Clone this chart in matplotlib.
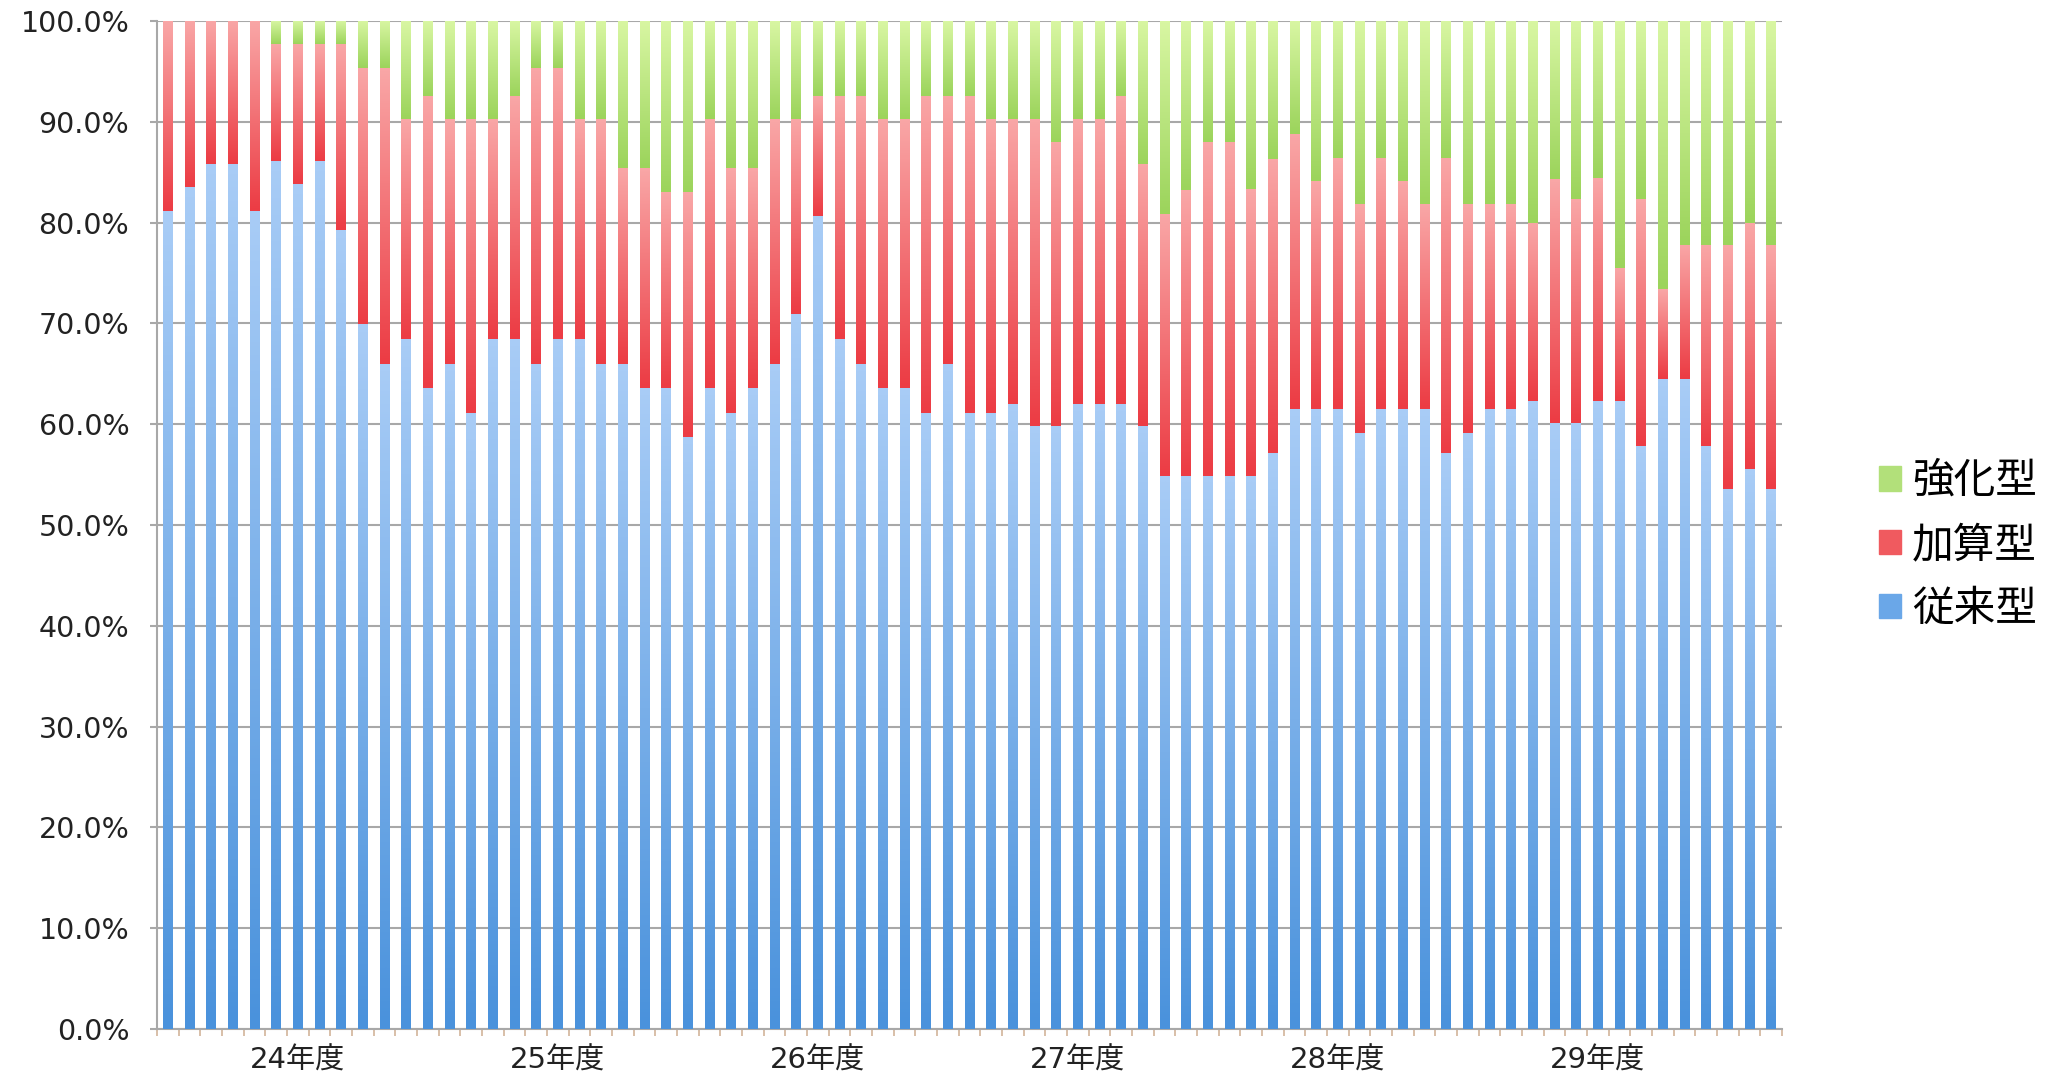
import numpy as np
import matplotlib.pyplot as plt
from matplotlib.colors import LinearSegmentedColormap
from matplotlib.patches import Patch

plt.rcParams['font.family'] = ['DejaVu Sans', 'Noto Sans CJK JP']

# monthly share (%) of each type, 75 months
juurai = [81.2, 83.5, 85.8, 85.8, 81.2, 86.1, 83.8, 86.1, 79.3, 69.9,
          66.0, 68.5, 63.6, 66.0, 61.1, 68.5, 68.5, 66.0, 68.5, 68.5,
          66.0, 66.0, 63.6, 63.6, 58.7, 63.6, 61.1, 63.6, 66.0, 70.9,
          80.7, 68.5, 66.0, 63.6, 63.6, 61.1, 66.0, 61.1, 61.1, 62.0,
          59.8, 59.8, 62.0, 62.0, 62.0, 59.8, 54.9, 54.9, 54.9, 54.9,
          54.9, 57.1, 61.5, 61.5, 61.5, 59.1, 61.5, 61.5, 61.5, 57.1,
          59.1, 61.5, 61.5, 62.3, 60.1, 60.1, 62.3, 62.3, 57.8, 64.5,
          64.5, 57.8, 53.6, 55.6, 53.6]
kasan = [18.8, 16.5, 14.2, 14.2, 18.8, 11.6, 13.9, 11.6, 18.4, 25.4,
         29.3, 21.8, 29.0, 24.3, 29.2, 21.8, 24.1, 29.3, 26.8, 21.8,
         24.3, 19.4, 21.8, 19.4, 24.3, 26.7, 24.3, 21.8, 24.3, 19.4,
         11.9, 24.1, 26.6, 26.7, 26.7, 31.5, 26.6, 31.5, 29.2, 28.3,
         30.5, 28.2, 28.3, 28.3, 30.6, 26.0, 26.0, 28.3, 33.1, 33.1,
         28.4, 29.2, 27.3, 22.6, 24.9, 22.7, 24.9, 22.6, 20.3, 29.3,
         22.7, 20.3, 20.3, 17.7, 24.2, 22.2, 22.1, 13.2, 24.5, 8.9,
         13.3, 20.0, 24.2, 24.4, 24.2]
kyoka = [0.0, 0.0, 0.0, 0.0, 0.0, 2.3, 2.3, 2.3, 2.3, 4.7,
         4.7, 9.7, 7.4, 9.7, 9.7, 9.7, 7.4, 4.7, 4.7, 9.7,
         9.7, 14.6, 14.6, 17.0, 17.0, 9.7, 14.6, 14.6, 9.7, 9.7,
         7.4, 7.4, 7.4, 9.7, 9.7, 7.4, 7.4, 7.4, 9.7, 9.7,
         9.7, 12.0, 9.7, 9.7, 7.4, 14.2, 19.1, 16.8, 12.0, 12.0,
         16.7, 13.7, 11.2, 15.9, 13.6, 18.2, 13.6, 15.9, 18.2, 13.6,
         18.2, 18.2, 18.2, 20.0, 15.7, 17.7, 15.6, 24.5, 17.7, 26.6,
         22.2, 22.2, 22.2, 20.0, 22.2]

year_labels = ["24年度", "25年度", "26年度", "27年度", "28年度", "29年度"]
series_names = ["従来型", "加算型", "強化型"]

# gradient (bottom colour, top colour) per series
grads = [("#4a92dc", "#a8ccf6"), ("#ec3c44", "#f9a6a6"), ("#9cd45c", "#d8f6a2")]
legend_colors = ["#6aa7e8", "#f05a5f", "#b2e07a"]


def main():
    fig = plt.figure(figsize=(20.53, 10.78), dpi=100)
    ax = fig.add_axes([0.0765, 0.0455, 0.7915, 0.935])

    n = len(juurai)
    x = np.arange(n)
    data = [np.array(juurai), np.array(kasan), np.array(kyoka)]
    bottom = np.zeros(n)
    grad = np.linspace(0, 1, 64).reshape(-1, 1)
    for vals, (c0, c1), name in zip(data, grads, series_names):
        bars = ax.bar(x, vals, bottom=bottom, width=0.45, color=c0,
                      linewidth=0, zorder=2, label=name)
        cmap = LinearSegmentedColormap.from_list(name, [c0, c1])
        for r in bars:
            h = r.get_height()
            if h <= 0:
                continue
            x0, y0, w = r.get_x(), r.get_y(), r.get_width()
            ax.imshow(grad, cmap=cmap, origin='lower', aspect='auto',
                      extent=[x0, x0 + w, y0, y0 + h], zorder=3,
                      interpolation='bilinear')
        bottom = bottom + vals

    ax.set_xlim(-0.5, n - 0.5)
    ax.set_ylim(0, 100)
    ax.set_yticks(np.arange(0, 101, 10))
    ax.set_yticklabels([f"{v:.1f}%" for v in np.arange(0, 101, 10)])
    ax.yaxis.grid(True, color="#a8a8a8", linewidth=1.5, zorder=1)
    ax.set_axisbelow(True)

    ax.set_xticks(np.arange(n + 1) - 0.5, minor=True)
    ax.set_xticks(np.arange(6, n, 12))
    ax.set_xticklabels(year_labels)
    ax.tick_params(axis='x', which='major', length=0, labelsize=21, pad=13,
                   labelcolor="#222222")
    ax.tick_params(axis='x', which='minor', length=5, width=1.2,
                   color="#d2b49a")
    ax.tick_params(axis='y', length=5, width=1.5, color="#a8a8a8",
                   labelsize=20.5, pad=15, labelcolor="#222222")

    for s in ['top', 'right']:
        ax.spines[s].set_visible(False)
    for s in ['left', 'bottom']:
        ax.spines[s].set_color("#a8a8a8")
        ax.spines[s].set_linewidth(1.5)

    handles = [Patch(color=c) for c in legend_colors[::-1]]
    fig.legend(handles, series_names[::-1], loc='center left',
               bbox_to_anchor=(0.897, 0.494), frameon=False,
               prop={'family': ['Noto Sans CJK JP'], 'size': 30},
               handlelength=0.53, handleheight=0.53, handletextpad=0.26,
               labelspacing=0.55)

    fig.savefig("out.png", dpi=100)


if __name__ == "__main__":
    main()
